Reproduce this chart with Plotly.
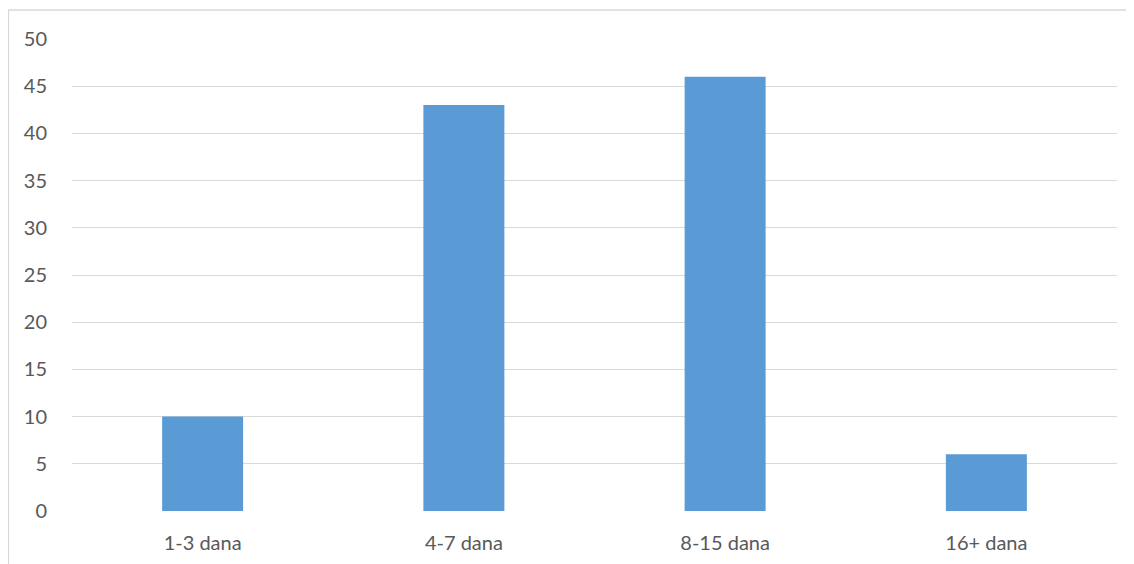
import plotly.graph_objects as go

categories = ["1-3 dana", "4-7 dana", "8-15 dana", "16+ dana"]
values = [10, 43, 46, 6]
y_ticks = [0, 5, 10, 15, 20, 25, 30, 35, 40, 45, 50]

W, H = 1134, 564
# page is offset by 8px body margin; margins chosen so the plot lands at page coords
ml, mr, mt, mb = 64, 25, 31, 61
pw, ph = W - ml - mr, H - mt - mb

fig = go.Figure(go.Bar(
    x=categories, y=values,
    marker=dict(color="#5B9BD5", line=dict(width=0)),
    hoverinfo="x+y",
))

fig.update_layout(
    width=W, height=H,
    margin=dict(l=ml, r=mr, t=mt, b=mb, pad=0),
    paper_bgcolor="white", plot_bgcolor="white",
    bargap=0.69,
    showlegend=False,
    font=dict(family="Lato, Open Sans, sans-serif", size=20, color="#595959"),
    xaxis=dict(showgrid=False, showline=False, zeroline=False, ticks="",
               ticklabelstandoff=18),
    yaxis=dict(range=[0, 50], tickvals=y_ticks, showgrid=True,
               gridcolor="#D9D9D9", gridwidth=1.3, zeroline=False,
               showline=False, ticks="", ticklabelstandoff=24),
    shapes=[dict(type="rect", xref="paper", yref="paper",
                 x0=(0.5 - ml) / pw, x1=(W + 20 - ml) / pw,
                 y0=-(H + 20 - mt - ph) / ph, y1=1 + (mt - 2) / ph,
                 line=dict(color="#D9D9D9", width=1.3), fillcolor="rgba(0,0,0,0)",
                 layer="below")],
)

fig.write_html("out.html")
